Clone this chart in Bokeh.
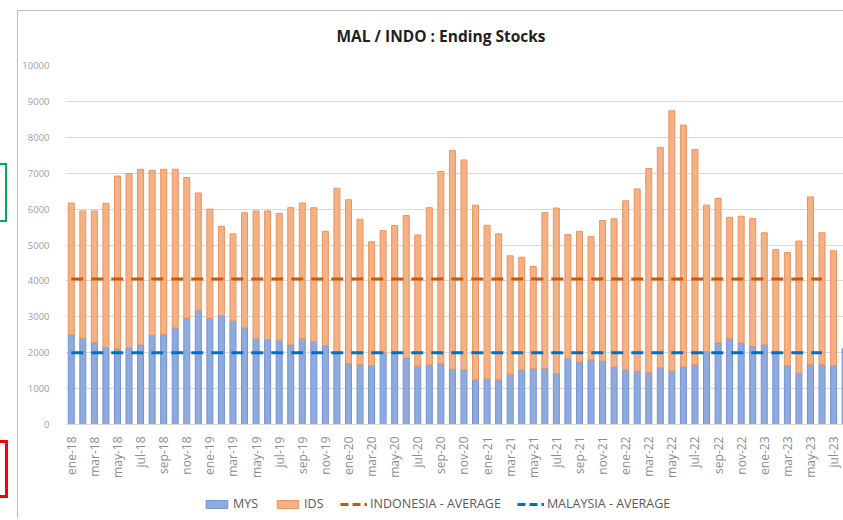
import numpy as np
from bokeh.plotting import figure
from bokeh.layouts import column
from bokeh.models import (Range1d, FixedTicker, Legend, LegendItem, ColumnDataSource)
from bokeh.embed import file_html
from bokeh.resources import INLINE

MESES = ["ene", "feb", "mar", "abr", "may", "jun", "jul", "ago", "sep", "oct", "nov", "dic"]
months = [f"{m}-{y}" for y in range(18, 24) for m in MESES][:68]

mys = [2500, 2400, 2280, 2150, 2110, 2140, 2220, 2480, 2500, 2690, 2960, 3180,
       2960, 3030, 2880, 2690, 2400, 2370, 2350, 2220, 2400, 2310, 2200, 2010,
       1690, 1660, 1640, 2000, 1990, 1850, 1620, 1660, 1690, 1540, 1520, 1240,
       1270, 1240, 1400, 1520, 1550, 1570, 1420, 1830, 1740, 1800, 1760, 1600,
       1520, 1480, 1440, 1580, 1480, 1600, 1670, 2030, 2270, 2390, 2270, 2170,
       2220, 2000, 1640, 1430, 1670, 1670, 1640, 2110]

ids = [3670, 3550, 3670, 4010, 4810, 4850, 4890, 4600, 4610, 4420, 3920, 3270,
       3040, 2490, 2430, 3210, 3550, 3580, 3530, 3820, 3770, 3730, 3180, 4570,
       4570, 4060, 3450, 3400, 3550, 3970, 3660, 4380, 5360, 6090, 5850, 4870,
       4280, 4070, 3300, 3140, 2850, 4330, 4610, 3460, 3640, 3440, 3920, 4130,
       4710, 5080, 5690, 6140, 7260, 6740, 5990, 4080, 4030, 3380, 3530, 3570,
       3120, 2870, 3150, 3680, 4670, 3670, 3200, float("nan")]

indonesia_avg = 4050
malaysia_avg = 2000
avg_months = months[:66]

y_ticks = list(range(0, 10001, 1000))

FONT = "Open Sans"
MYS_FILL, MYS_LINE = "#8FAADC", "#7393D6"
IDS_FILL, IDS_LINE = "#F4B183", "#EA9461"
IDS_AVG_COLOR, MYS_AVG_COLOR = "#C55A11", "#0070C0"

x = list(range(len(months)))
src = ColumnDataSource(dict(x=x, MYS=np.array(mys, dtype=float), IDS=np.array(ids, dtype=float)))

p = figure(width=843, height=490, output_backend="svg", toolbar_location=None,
           x_range=Range1d(-0.5, 66.86), y_range=Range1d(0, 10000),
           min_border_left=65, min_border_right=0, min_border_top=65, min_border_bottom=66)
p.outline_line_color = None
p.background_fill_color = "white"
p.border_fill_alpha = 0

p.title.text = "MAL / INDO : Ending Stocks"
p.title.align = "left"
p.title.text_font = FONT
p.title.text_font_size = "15.5px"
p.title.text_font_style = "bold"
p.title.text_color = "#1f1f1f"
p.title.standoff = 37
p.title.offset = 271

bars = p.vbar_stack(["MYS", "IDS"], x="x", width=0.52, source=src,
                    fill_color=[MYS_FILL, IDS_FILL],
                    line_color=[MYS_LINE, IDS_LINE], line_width=1)

ax = [x[months.index(m)] for m in avg_months]
p.line(ax, [indonesia_avg] * len(ax), line_color=IDS_AVG_COLOR, line_width=3, line_dash="12 8")
p.line(ax, [malaysia_avg] * len(ax), line_color=MYS_AVG_COLOR, line_width=3, line_dash="12 8")

# axes
p.xaxis.ticker = FixedTicker(ticks=x[::2])
p.xaxis.major_label_overrides = {i: months[i] for i in x[::2]}
p.xaxis.major_label_orientation = np.pi / 2
p.xaxis.axis_line_color = "#d9d9d9"
p.xaxis.major_tick_line_color = None
p.xaxis.minor_tick_line_color = None
p.xaxis.major_label_text_color = "#8c8c8c"
p.xaxis.major_label_text_font = FONT
p.xaxis.major_label_text_font_size = "12px"
p.xaxis.major_label_standoff = 6

p.yaxis.ticker = FixedTicker(ticks=y_ticks)
p.yaxis.axis_line_color = None
p.yaxis.major_tick_line_color = None
p.yaxis.minor_tick_line_color = None
p.yaxis.major_label_text_color = "#a0a0a0"
p.yaxis.major_label_text_font = FONT
p.yaxis.major_label_text_font_size = "9.5px"
p.yaxis.major_label_standoff = 10

p.xgrid.visible = False
p.ygrid.grid_line_color = "#d9d9d9"
p.ygrid.grid_line_width = 1

# legend strip (separate figure so that the legend is not clipped)
lg = figure(width=843, height=28, output_backend="svg", toolbar_location=None,
            x_range=Range1d(0, 1), y_range=Range1d(0, 1),
            x_axis_type=None, y_axis_type=None,
            min_border_left=0, min_border_right=0, min_border_top=0, min_border_bottom=0)
lg.outline_line_color = None
lg.background_fill_alpha = 0
lg.border_fill_alpha = 0
lg.xgrid.visible = False
lg.ygrid.visible = False
# legend-key glyphs only: their data lie outside the strip's visible range
r_mys = lg.vbar(x=[10], top=[10], width=0.1, fill_color=MYS_FILL, line_color=MYS_LINE)
r_ids = lg.vbar(x=[10], top=[10], width=0.1, fill_color=IDS_FILL, line_color=IDS_LINE)
r_ia = lg.line(x=[10, 11], y=[10, 10], line_color=IDS_AVG_COLOR, line_width=3, line_dash="8 4")
r_ma = lg.line(x=[10, 11], y=[10, 10], line_color=MYS_AVG_COLOR, line_width=3, line_dash="8 4")

legend = Legend(items=[LegendItem(label="MYS", renderers=[r_mys]),
                       LegendItem(label="IDS", renderers=[r_ids]),
                       LegendItem(label="INDONESIA - AVERAGE", renderers=[r_ia]),
                       LegendItem(label="MALAYSIA - AVERAGE", renderers=[r_ma])],
                orientation="horizontal", location=(138, 6),
                border_line_color=None, background_fill_alpha=0,
                label_text_font=FONT, label_text_font_size="12.5px",
                label_text_color="#595959", glyph_width=27, glyph_height=10,
                spacing=16, label_standoff=3, padding=2, margin=0)
lg.add_layout(legend)

layout = column(p, lg, spacing=0)
layout.styles = {
    "background":
        "linear-gradient(#00B050,#00B050) 0px 163px / 7px 2px no-repeat,"
        "linear-gradient(#00B050,#00B050) 0px 220px / 7px 2px no-repeat,"
        "linear-gradient(#00B050,#00B050) 5px 163px / 2px 59px no-repeat,"
        "linear-gradient(#FF0000,#FF0000) 0px 440px / 8px 3px no-repeat,"
        "linear-gradient(#FF0000,#FF0000) 0px 495px / 8px 3px no-repeat,"
        "linear-gradient(#FF0000,#FF0000) 5px 440px / 3px 58px no-repeat,"
        "linear-gradient(#bdbdbd,#bdbdbd) 17px 10px / 1px 508px no-repeat,"
        "linear-gradient(#bdbdbd,#bdbdbd) 17px 10px / 826px 1px no-repeat,"
        "white"
}

open("out.html", "w").write(file_html(layout, INLINE))
